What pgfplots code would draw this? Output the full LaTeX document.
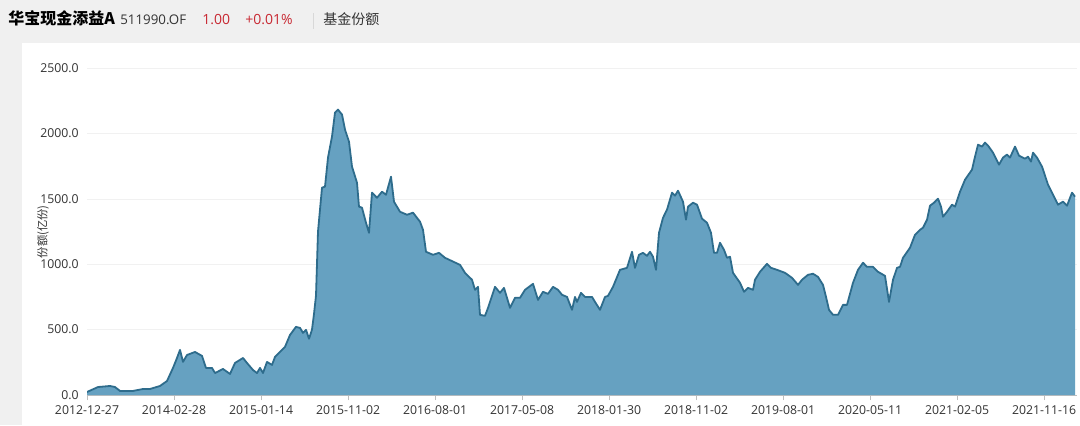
\documentclass[border=0pt]{standalone}
\usepackage{pgfplots}
\pgfplotsset{compat=1.18}
\usepackage{pgfplotstable}
\usepackage{fontspec}
\setmainfont{Open Sans}
\newfontfamily\cjk{Noto Sans CJK SC}

\definecolor{areafill}{RGB}{102,161,193}
\definecolor{areaedge}{RGB}{46,108,140}
\definecolor{panelgray}{RGB}{240,240,240}
\definecolor{labelgray}{RGB}{51,51,51}
\definecolor{upred}{RGB}{200,40,50}
\definecolor{tickgray}{RGB}{190,190,190}
\definecolor{gridgray}{RGB}{241,241,241}

% fund shares (100M units); x = position along the sample axis
\pgfplotstableread{
x y
87 23
98 61
110 69
115 61
120 31
133 31
143 46
150 46
160 69
167 107
173 207
177 283
180 345
183 253
187 306
195 329
202 299
206 207
212 207
215 168
223 199
230 161
235 245
243 283
247 245
253 191
257 168
260 207
263 168
267 253
272 230
275 291
280 329
285 368
290 459
296 521
300 513
303 475
306 498
309 430
312 500
314 620
316 760
318 1250
322 1585
325 1593
328 1815
332 1976
335 2159
338 2182
342 2144
345 2029
349 1937
352 1746
357 1623
359 1440
362 1432
366 1317
369 1240
372 1547
377 1508
382 1554
386 1531
391 1669
394 1478
400 1401
407 1378
413 1394
420 1325
423 1263
426 1095
433 1072
439 1087
445 1049
460 995
465 934
472 881
475 804
478 827
480 613
485 605
488 666
495 827
500 781
504 819
510 666
515 743
520 743
525 804
533 850
538 727
543 789
548 773
553 827
558 804
562 766
567 750
572 651
575 750
577 712
581 781
585 750
592 750
595 712
600 651
605 750
608 758
613 827
620 957
627 972
632 1095
635 972
639 1072
643 1087
647 1064
650 1095
653 1057
656 957
659 1240
663 1355
667 1417
672 1547
675 1524
678 1562
683 1478
686 1340
688 1440
693 1470
697 1455
702 1348
707 1317
711 1240
714 1087
717 1087
720 1164
724 1110
727 1049
730 1057
733 934
740 858
744 789
748 819
753 804
755 881
760 942
767 1003
771 972
777 957
785 934
792 896
798 842
802 881
808 919
813 927
818 903
823 842
826 750
829 651
833 613
838 613
843 689
847 689
853 858
858 957
863 1011
867 980
873 980
878 942
885 911
889 712
893 881
897 972
900 980
903 1049
910 1126
915 1225
920 1263
923 1279
927 1340
930 1447
934 1470
938 1501
941 1440
943 1363
947 1401
952 1455
955 1440
960 1554
965 1646
972 1723
975 1822
978 1914
982 1899
985 1930
988 1907
993 1853
999 1761
1003 1815
1007 1838
1010 1815
1015 1899
1019 1830
1025 1807
1028 1822
1031 1784
1033 1853
1037 1815
1042 1746
1048 1608
1053 1531
1058 1455
1063 1478
1067 1447
1072 1547
1075 1516
}\sharedata

\begin{document}
\begin{tikzpicture}
\useasboundingbox (0,0) rectangle (810pt,318.75pt);
\fill[panelgray] (0,0) rectangle (810pt,318.75pt);
\fill[white] (16.5pt,0) rectangle (810pt,286.5pt);

% header line
\node[anchor=base west, inner sep=0pt, font=\cjk\bfseries\fontsize{12}{14}\selectfont, text=black] at (6pt,300pt) {华宝现金添益A};
\node[anchor=base west, inner sep=0pt, font=\fontsize{10}{12}\selectfont, text=labelgray] at (90pt,300pt) {511990.OF};
\node[anchor=base west, inner sep=0pt, font=\fontsize{10.5}{12}\selectfont, text=upred] at (151.5pt,300pt) {1.00};
\node[anchor=base west, inner sep=0pt, font=\fontsize{10.5}{12}\selectfont, text=upred] at (183.75pt,300pt) {+0.01\%};
\draw[tickgray!60] (234.75pt,297pt) -- (234.75pt,309pt);
\node[anchor=base west, inner sep=0pt, font=\cjk\fontsize{10.5}{12}\selectfont, text=labelgray] at (242.25pt,300pt) {基金份额};

\begin{axis}[
    at={(65.25pt,22.5pt)}, anchor=south west,
    scale only axis,
    width=742.5pt, height=245.25pt,
    xmin=87, xmax=1077,
    ymin=0, ymax=2500,
    axis lines=left,
    axis line style={-},
    x axis line style={tickgray},
    y axis line style={draw=none},
    tick align=outside,
    major tick length=3.75pt,
    xtick={87,174,261,348,435,522,609,696,783,870,957,1044},
    xticklabels={2012-12-27,2014-02-28,2015-01-14,2015-11-02,2016-08-01,2017-05-08,2018-01-30,2018-11-02,2019-08-01,2020-05-11,2021-02-05,2021-11-16},
    ytick={0,500,1000,1500,2000,2500},
    yticklabels={0.0,500.0,1000.0,1500.0,2000.0,2500.0},
    xtick style={tickgray},
    ytick style={draw=none},
    ymajorgrids,
    major grid style={gridgray},
    ticklabel style={font=\fontsize{9.2}{11}\selectfont, text=labelgray, inner sep=0pt},
    xticklabel style={yshift=-3.75pt},
    yticklabel style={xshift=-2.25pt},
]
\addplot[draw=none, fill=areafill] table {\sharedata} \closedcycle;
\addplot[areaedge, line width=1.35pt, line join=round] table {\sharedata};
\end{axis}

\node[rotate=90, inner sep=0pt, font=\cjk\fontsize{8.5}{10}\selectfont, text=labelgray] at (32.25pt,145pt) {份额(亿份)};
\end{tikzpicture}
\end{document}
